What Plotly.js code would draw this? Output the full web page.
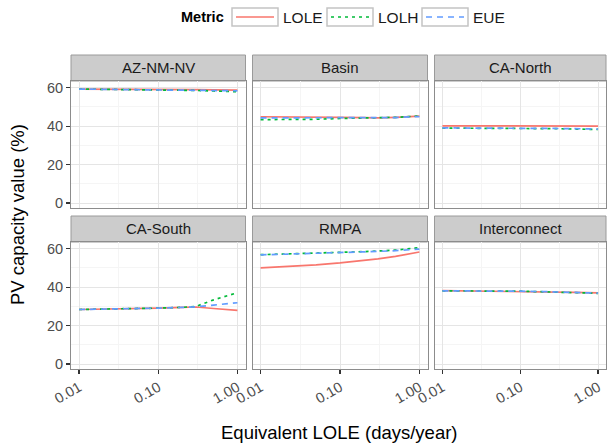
<!DOCTYPE html>
<html><head><meta charset="utf-8">
<script src="https://cdn.plot.ly/plotly-3.0.1.min.js"></script>
<style>html,body{margin:0;padding:0;background:#fff}#chart{width:608px;height:445px}</style>
</head><body><div id="chart"></div>
<script>
// ---- data ----
const regions = ["AZ-NM-NV", "Basin", "CA-North", "CA-South", "RMPA", "Interconnect"];
const metrics = ["LOLE", "LOLH", "EUE"];
const metricColors = ["#F8766D", "#00BA38", "#619CFF"];
const metricDash = ["solid", "3px,4px", "6px,5px"];
const lole = [0.01, 0.02, 0.05, 0.1, 0.2, 0.3, 0.5, 1.0];
const xTickVals = [0.01, 0.1, 1];
const xTickText = ["0.01", "0.10", "1.00"];
const yTickVals = [0, 20, 40, 60];

const azLOLE = [59.3, 59.3, 59.2, 59.2, 59.1, 59.0, 58.9, 58.8];
const azLOLH = [59.3, 59.2, 59.1, 59.0, 58.8, 58.6, 58.3, 57.9];
const azEUE  = [59.3, 59.2, 59.1, 59.1, 59.0, 58.9, 58.7, 58.4];

const basinLOLE = [44.9, 44.9, 44.8, 44.6, 44.4, 44.3, 44.6, 45.2];
const basinLOLH = [43.4, 43.4, 43.6, 44.0, 44.2, 44.3, 44.6, 45.3];
const basinEUE  = [44.3, 44.3, 44.4, 44.4, 44.3, 44.3, 44.5, 45.0];

const northLOLE = [40.2, 40.2, 40.2, 40.2, 40.1, 40.1, 40.0, 40.0];
const northLOLH = [39.0, 39.0, 38.9, 38.9, 38.8, 38.7, 38.5, 38.3];
const northEUE  = [39.1, 39.1, 39.0, 39.0, 38.9, 38.8, 38.7, 38.5];

const southLOLE = [28.4, 28.5, 28.8, 29.1, 29.5, 29.7, 28.9, 27.9];
const southLOLH = [28.4, 28.5, 28.8, 29.1, 29.5, 30.0, 33.4, 37.1];
const southEUE  = [28.4, 28.5, 28.8, 29.1, 29.5, 29.8, 30.7, 31.9];

const rmpaLOLE = [50.0, 50.6, 51.6, 52.6, 53.8, 54.7, 56.0, 58.3];
const rmpaLOLH = [56.9, 57.2, 57.6, 58.0, 58.5, 58.8, 59.3, 60.6];
const rmpaEUE  = [56.8, 57.1, 57.5, 57.9, 58.3, 58.6, 59.0, 59.8];

const interLOLE = [38.2, 38.1, 38.0, 37.9, 37.7, 37.5, 37.3, 37.0];
const interLOLH = [38.1, 38.1, 38.0, 37.9, 37.6, 37.4, 37.2, 36.8];
const interEUE  = [38.1, 38.1, 38.0, 37.9, 37.7, 37.5, 37.2, 36.9];

const seriesByRegion = [
  [azLOLE, azLOLH, azEUE],
  [basinLOLE, basinLOLH, basinEUE],
  [northLOLE, northLOLH, northEUE],
  [southLOLE, southLOLH, southEUE],
  [rmpaLOLE, rmpaLOLH, rmpaEUE],
  [interLOLE, interLOLH, interEUE]
];

// ---- geometry (pixels) ----
const W = 608, H = 445;
const colX = [[71, 245.5], [252.5, 427.5], [434.5, 606]];
const rowY = [[81, 207.5], [242, 368.5]];   // panel top/bottom
const stripH = 26;
const fx = p => p / W;
const fy = p => 1 - p / H;
const FONT = "Liberation Sans, Arial, sans-serif";

const traces = [];
const layout = {
  width: W, height: H,
  margin: {l: 0, r: 0, t: 0, b: 0},
  paper_bgcolor: "#fff", plot_bgcolor: "#fff",
  showlegend: false,
  font: {family: FONT, color: "#000"},
  shapes: [], annotations: []
};

regions.forEach((reg, i) => {
  const r = Math.floor(i / 3), c = i % 3;
  const n = i + 1;
  const xa = n === 1 ? "xaxis" : "xaxis" + n;
  const ya = n === 1 ? "yaxis" : "yaxis" + n;
  const xr = n === 1 ? "x" : "x" + n;
  const yr = n === 1 ? "y" : "y" + n;
  const bottom = r === 1, left = c === 0;
  layout[xa] = {
    type: "log", domain: [fx(colX[c][0]), fx(colX[c][1])],
    range: [Math.log10(0.01) - 0.102, Math.log10(1) + 0.102],
    anchor: yr, tickmode: "array", tickvals: xTickVals, ticktext: xTickText,
    showticklabels: bottom, ticks: bottom ? "outside" : "", ticklen: 4, tickwidth: 1.2, tickcolor: "#333",
    tickangle: -30, tickfont: {size: 14.5, color: "#4D4D4D", family: FONT},
    showgrid: true, gridcolor: "#E5E5E5", gridwidth: 1,
    minor: {tickmode: "array", tickvals: [0.0316228, 0.316228], showgrid: true, gridcolor: "#F5F5F5", gridwidth: 1, ticks: ""},
    showline: true, mirror: true, linecolor: "#8C8C8C", linewidth: 1, zeroline: false
  };
  layout[ya] = {
    domain: [fy(rowY[r][1]), fy(rowY[r][0])],
    range: [-2.3, 63.5], anchor: xr,
    tickmode: "array", tickvals: yTickVals,
    showticklabels: left, ticks: left ? "outside" : "", ticklen: 4, tickwidth: 1.2, tickcolor: "#333",
    tickfont: {size: 14.5, color: "#4D4D4D", family: FONT},
    showgrid: true, gridcolor: "#E5E5E5", gridwidth: 1,
    minor: {dtick: 10, tick0: 0, showgrid: true, gridcolor: "#F5F5F5", gridwidth: 1, ticks: ""},
    showline: true, mirror: true, linecolor: "#8C8C8C", linewidth: 1, zeroline: false
  };
  // strip
  layout.shapes.push({
    type: "rect", xref: "paper", yref: "paper", layer: "below",
    x0: fx(colX[c][0]), x1: fx(colX[c][1]),
    y0: fy(rowY[r][0]), y1: fy(rowY[r][0] - stripH),
    fillcolor: "#CCCCCC", line: {color: "#9A9A9A", width: 1}
  });
  layout.annotations.push({
    text: reg, xref: "paper", yref: "paper", showarrow: false,
    x: fx((colX[c][0] + colX[c][1]) / 2), y: fy(rowY[r][0] - stripH / 2),
    xanchor: "center", yanchor: "middle",
    font: {size: 15, color: "#1A1A1A", family: FONT}
  });
  seriesByRegion[i].forEach((vals, k) => {
    traces.push({
      type: "scatter", mode: "lines", x: lole, y: vals, name: metrics[k],
      xaxis: xr, yaxis: yr, hoverinfo: "skip",
      line: {color: metricColors[k], dash: metricDash[k], width: 1.7}
    });
  });
});

// axis titles
layout.annotations.push({
  text: "Equivalent LOLE (days/year)", xref: "paper", yref: "paper", showarrow: false,
  x: fx(339), y: fy(432), xanchor: "center", yanchor: "middle",
  font: {size: 18.5, color: "#000", family: FONT}
});
layout.annotations.push({
  text: "PV capacity value (%)", xref: "paper", yref: "paper", showarrow: false,
  x: fx(17), y: fy(215), xanchor: "center", yanchor: "middle", textangle: -90,
  font: {size: 18.5, color: "#000", family: FONT}
});

// legend (ggplot style: title + boxed keys)
const legY = 17;
layout.annotations.push({
  text: "<b>Metric</b>", xref: "paper", yref: "paper", showarrow: false,
  x: fx(226), y: fy(legY), xanchor: "right", yanchor: "middle",
  font: {size: 14.5, color: "#000", family: FONT}
});
const keyX = [232, 327, 422];
metrics.forEach((m, k) => {
  const x0 = keyX[k];
  layout.shapes.push({
    type: "rect", xref: "paper", yref: "paper",
    x0: fx(x0), x1: fx(x0 + 46), y0: fy(legY + 9), y1: fy(legY - 9),
    fillcolor: "#FFFFFF", line: {color: "#C4C4C4", width: 1.5}
  });
  layout.shapes.push({
    type: "line", xref: "paper", yref: "paper",
    x0: fx(x0 + 4), x1: fx(x0 + 42), y0: fy(legY), y1: fy(legY),
    line: {color: metricColors[k], dash: metricDash[k], width: 1.7}
  });
  layout.annotations.push({
    text: m, xref: "paper", yref: "paper", showarrow: false,
    x: fx(x0 + 49), y: fy(legY), xanchor: "left", yanchor: "middle",
    font: {size: 15.5, color: "#1A1A1A", family: FONT}
  });
});

Plotly.newPlot("chart", traces, layout, {staticPlot: true, displayModeBar: false});
</script>
</body></html>
